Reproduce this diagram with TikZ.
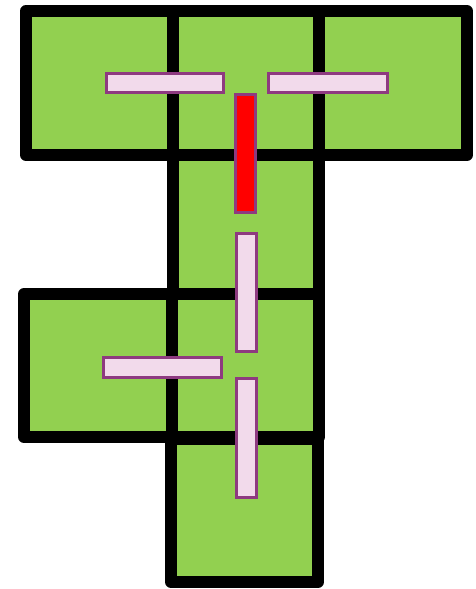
\documentclass[tikz,border=0pt]{standalone}
\begin{document}
\begin{tikzpicture}[x=1pt,y=-1pt,
  sq/.style={rectangle,draw=black,fill=sqgreen,line width=12pt,line join=round,inner sep=0pt,outer sep=0pt},
  bar/.style={rectangle,draw=barpurple,fill=barpink,line width=3pt,inner sep=0pt,outer sep=0pt},
  redbar/.style={bar,fill=red}]
\definecolor{sqgreen}{RGB}{146,208,80}
\definecolor{barpink}{RGB}{242,218,235}
\definecolor{barpurple}{RGB}{142,58,128}
\useasboundingbox (0,0) rectangle (475,589);
% squares
\node[sq,minimum width=147pt,minimum height=144pt] (A) at (99.5,83) {};
\node[sq,minimum width=146pt,minimum height=144pt] (B) at (246,83) {};
\node[sq,minimum width=148pt,minimum height=144pt] (C) at (393,83) {};
\node[sq,minimum width=146pt,minimum height=141pt] (D) at (246,225.5) {};
\node[sq,minimum width=148pt,minimum height=143pt] (E) at (98,365.5) {};
\node[sq,minimum width=147pt,minimum height=143pt] (F) at (245.5,365.5) {};
\node[sq,minimum width=147pt,minimum height=143pt] (G) at (244.5,510.5) {};
% bars
\node[bar,minimum width=117pt,minimum height=19pt] (b1) at (164.5,82.5) {};
\node[bar,minimum width=119pt,minimum height=19pt] (b2) at (327.5,82.5) {};
\node[redbar,minimum width=20pt,minimum height=118pt] (r) at (245,153) {};
\node[bar,minimum width=20pt,minimum height=118pt] (b3) at (246,292) {};
\node[bar,minimum width=118pt,minimum height=20pt] (b4) at (162,367) {};
\node[bar,minimum width=20pt,minimum height=119pt] (b5) at (246,437.5) {};
\end{tikzpicture}
\end{document}
